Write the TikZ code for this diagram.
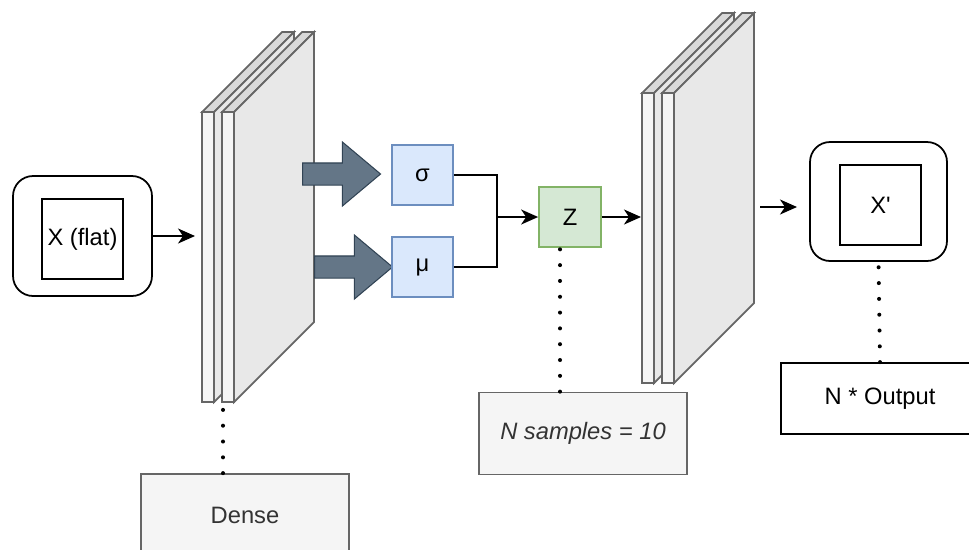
\documentclass[tikz,border=0pt]{standalone}
\usepackage{fontspec}
\setmainfont{Liberation Sans}
\usepackage{xcolor}
\usetikzlibrary{arrows.meta,shapes.arrows}

\definecolor{slate}{HTML}{647687}
\definecolor{slateline}{HTML}{314354}
\definecolor{bluefill}{HTML}{DAE8FC}
\definecolor{blueline}{HTML}{6C8EBF}
\definecolor{greenfill}{HTML}{D5E8D4}
\definecolor{greenline}{HTML}{82B366}
\definecolor{greyfill}{HTML}{F5F5F5}
\definecolor{greyline}{HTML}{666666}
\definecolor{greytext}{HTML}{333333}

\tikzset{
    outerbox/.style={draw,rounded corners=0.4cm,minimum width=2.78cm,minimum height=2.4cm},
    innerbox/.style={draw,minimum width=1.62cm,minimum height=1.6cm,inner sep=0pt},
    bluebox/.style={draw=blueline,fill=bluefill,minimum width=1.22cm,minimum height=1.2cm},
    greenbox/.style={draw=greenline,fill=greenfill,minimum width=1.24cm,minimum height=1.2cm},
    notebox/.style={draw=greyline,fill=greyfill,text=greytext,minimum width=4.16cm,minimum height=1.64cm},
    plainbox/.style={draw,fill=white,minimum width=3.96cm,minimum height=1.42cm},
    bigarrow/.style={single arrow,draw=slateline,fill=slate,line width=0.6pt,anchor=tail,
        minimum height=1.56cm,inner sep=0.21cm,single arrow head extend=0.42cm,single arrow tip angle=80},
    platefront/.style={draw=greyline,fill=greyfill},
    plateside/.style={draw=greyline,fill=black!9},
    platetop/.style={draw=greyline,fill=black!15},
    arr/.style={-{Stealth[length=0.34cm,width=0.3cm,inset=0.1cm]}},
    dotline/.style={line width=2.3pt,line cap=round,dash pattern=on 0pt off 9pt}
}

\begin{document}
\begin{tikzpicture}[x=0.02cm,y=-0.02cm,line width=1pt,font=\fontsize{13.5}{16}\selectfont]
    \useasboundingbox (0,0) rectangle (969,549);

    % first dense layer
    \foreach \px in {202,222}{
        \filldraw[platetop] (\px,112) -- ++(80,-80) -- ++(12,0) -- ++(-80,80) -- cycle;
        \filldraw[plateside] (\px+12,112) -- ++(80,-80) -- ++(0,290) -- ++(-80,80) -- cycle;
        \filldraw[platefront] (\px,112) rectangle ++(12,290);
    }
    \coordinate (l1in) at (195,236);
    \coordinate (l1bot) at (223,402);

    % second dense layer
    \foreach \px in {642,662}{
        \filldraw[platetop] (\px,93) -- ++(80,-80) -- ++(12,0) -- ++(-80,80) -- cycle;
        \filldraw[plateside] (\px+12,93) -- ++(80,-80) -- ++(0,290) -- ++(-80,80) -- cycle;
        \filldraw[platefront] (\px,93) rectangle ++(12,290);
    }
    \coordinate (l2in) at (641,217);
    \coordinate (l2out) at (760,207);
    \coordinate (outarr) at (797,207);

    % input
    \node[outerbox] (inp) at (82.5,236) {};
    \node[innerbox] (xin) at (82.5,239) {X (flat)};

    % latent
    \node[bigarrow] (asig) at (302,174) {};
    \node[bigarrow] (amu) at (314,267) {};
    \node[bluebox] (sig) at (422.5,175) {σ};
    \node[bluebox] (mu) at (422.5,267) {μ};
    \node[greenbox] (z) at (570,217) {Z};
    \coordinate (join) at (497,217);

    % output
    \node[outerbox,minimum width=2.74cm,minimum height=2.38cm] (outp) at (878.5,201.5) {};
    \node[innerbox] (xout) at (880.5,205) {X\textquotesingle};

    % notes
    \node[notebox] (dense) at (245,515) {Dense};
    \node[notebox,font=\fontsize{13.5}{16}\selectfont\itshape] (nsamp) at (583,433.5) {N samples = 10};
    \node[plainbox] (nout) at (880,398.5) {N * Output};

    \draw[arr] (inp.east) -- (l1in);
    \draw (sig.east) -| (join);
    \draw (mu.east) -| (join);
    \draw[arr] (join) -- (z.west);
    \draw[arr] (z.east) -- (l2in);
    \draw[arr] (l2out) -- (outarr);

    \draw[dotline] (dense.north -| l1bot) -- (l1bot);
    \draw[dotline] ([xshift=-0.2cm]z.south |- nsamp.north) -- ([xshift=-0.2cm]z.south);
    \draw[dotline] (nout.north) -- (outp.south);
\end{tikzpicture}
\end{document}
